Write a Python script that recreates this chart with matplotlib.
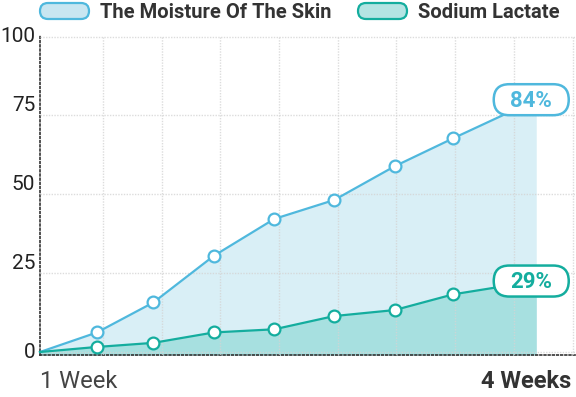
import matplotlib.pyplot as plt
from matplotlib.patches import FancyBboxPatch
from matplotlib.transforms import IdentityTransform

plt.rcParams['font.family'] = ['Roboto', 'DejaVu Sans']

# data
x_pos = [0, 0.97, 1.93, 2.96, 3.99, 5.01, 6.04, 7.04, 8.45]
moisture = [0, 6.2, 15.7, 30.5, 42.2, 48.2, 58.9, 67.8, 80.0]
lactate = [0, 1.6, 2.9, 6.2, 7.2, 11.4, 13.3, 18.3, 22.5]
series_names = ['The Moisture Of The Skin', 'Sodium Lactate']
end_labels = ['84%', '29%']
y_ticks = [0, 25, 50, 75, 100]
x_labels = ['1 Week', '4 Weeks']

blue_line, blue_fill, blue_pill = '#4fb8dd', '#d9eff6', '#c8e6f1'
green_line, green_fill, green_pill = '#14ad9e', '#a7e0e0', '#b4e4e3'

W, H = 576, 397
fig = plt.figure(figsize=(W / 100, H / 100), dpi=100)
ax = fig.add_axes([40 / W, (H - 355) / H, 535 / W, (355 - 36) / H])
ax.set_xlim(0, 9.11)
ax.set_ylim(-0.95, 100.2)

# grid, drawn over the fills
ax.set_xticks([0.07 + k for k in range(1, 10)])
ax.set_xticklabels([])
ax.set_yticks(y_ticks)
ax.tick_params(length=0)
ax.set_axisbelow(False)
ax.grid(color='#d4d4d4', linestyle=(0, (1, 1)), linewidth=1, alpha=0.8)
for s in ['top', 'right']:
    ax.spines[s].set_visible(False)
for s in ['left', 'bottom']:
    ax.spines[s].set_linestyle((0, (1, 1.5)))
    ax.spines[s].set_color('#333333')
    ax.spines[s].set_linewidth(1.2)

# y tick labels sit just above their gridline
ax.set_yticklabels([str(t) for t in y_ticks], fontsize=15, color='#222222')
for lab, t in zip(ax.get_yticklabels(), y_ticks):
    lab.set_verticalalignment('center' if t in (0, 100) else 'bottom')
ax.tick_params(axis='y', pad=3.5)

ax.fill_between(x_pos, moisture, -0.95, color=blue_fill, lw=0, zorder=1)
ax.fill_between(x_pos, lactate, -0.95, color=green_fill, lw=0, zorder=1.1)
for ys, col in [(moisture, blue_line), (lactate, green_line)]:
    ax.plot(x_pos, ys, color=col, lw=1.6, zorder=3, clip_on=False)
    ax.plot(x_pos[1:-1], ys[1:-1], 'o', ms=8.5, mfc='white', mec=col,
            mew=1.6, zorder=4)

# end value badges
for ys, col, txt in [(moisture, blue_line, end_labels[0]),
                     (lactate, green_line, end_labels[1])]:
    px, py = ax.transData.transform((x_pos[-1], ys[-1]))
    cx = px - 5
    badge = FancyBboxPatch((cx - 37.5, py - 15.5), 75, 31,
                           boxstyle='round,pad=0,rounding_size=15.5',
                           fc='white', ec=col, lw=1.8,
                           transform=IdentityTransform(), zorder=5)
    fig.add_artist(badge)
    fig.text(cx / W, (py - 1) / H, txt, ha='center', va='center',
             fontsize=16, fontweight='bold', color=col, zorder=6)

# legend
for (x0, name, pill, col) in [(40, series_names[0], blue_pill, blue_line),
                              (358, series_names[1], green_pill, green_line)]:
    p = FancyBboxPatch((x0, H - 19), 49, 16,
                       boxstyle='round,pad=0,rounding_size=8',
                       fc=pill, ec=col, lw=1.6, transform=IdentityTransform())
    fig.add_artist(p)
    fig.text((x0 + 60) / W, (H - 12) / H, name, ha='left', va='center',
             fontsize=14.5, fontweight='bold', color='#333333')

# x axis end labels
fig.text(40 / W, (H - 381) / H, x_labels[0], ha='left', va='center',
         fontsize=17, color='#444444')
fig.text(571 / W, (H - 382) / H, x_labels[1], ha='right', va='center',
         fontsize=17, fontweight='bold', color='#333333')

fig.savefig('out.png', dpi=100)
